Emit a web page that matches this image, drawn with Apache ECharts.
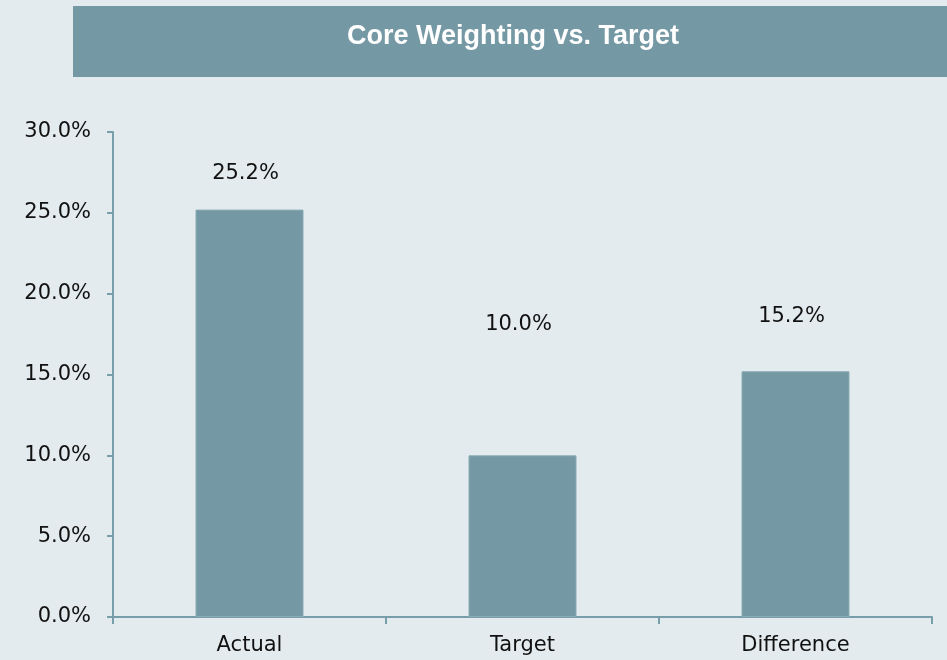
<!DOCTYPE html>
<html>
<head>
<meta charset="utf-8">
<script src="https://cdn.jsdelivr.net/npm/echarts@6/dist/echarts.min.js"></script>
<style>
    html, body { margin: 0; padding: 0; background: #e3ebee; }
    #chart { width: 947px; height: 660px; }
</style>
</head>
<body>
<div id="chart"></div>
<script>
const categories = ['Actual', 'Target', 'Difference']
const weights = [25.2, 10.0, 15.2]
const yTicks = [0, 5, 10, 15, 20, 25, 30]

// labels were hand-placed in the original, lift each one a bit differently
const labelLift = [26, 120, 44]

const barColor = '#7599a4'
const axisColor = '#789eab'
const font = '"DejaVu Sans", sans-serif'

const chart = echarts.init(document.getElementById('chart'), null, { renderer: 'canvas' })

chart.setOption({
    backgroundColor: '#e3ebee',
    animation: false,
    graphic: [
        {
            type: 'rect',
            left: 73, top: 6,
            shape: { width: 874, height: 71 },
            style: { fill: barColor },
        },
        {
            type: 'text',
            x: 513, y: 37,
            style: {
                text: 'Core Weighting vs. Target',
                fill: '#fff',
                font: 'bold 27px "Liberation Sans", sans-serif',
                textAlign: 'center',
                textVerticalAlign: 'middle',
            },
        },
    ],
    grid: { left: 113, right: 15, top: 132, bottom: 43 },
    xAxis: {
        type: 'category',
        data: categories,
        axisLine: { lineStyle: { color: axisColor, width: 2 } },
        axisTick: { show: true, interval: 0, length: 7, lineStyle: { color: axisColor, width: 2 } },
        axisLabel: { color: '#111', fontSize: 21, fontFamily: font, margin: 18 },
    },
    yAxis: {
        type: 'value',
        min: yTicks[0],
        max: yTicks[yTicks.length - 1],
        interval: yTicks[1] - yTicks[0],
        axisLine: { show: true, lineStyle: { color: axisColor, width: 2 } },
        axisTick: { show: true, length: 6, lineStyle: { color: axisColor, width: 2 } },
        splitLine: { show: false },
        axisLabel: {
            color: '#111', fontSize: 21, fontFamily: font, margin: 22,
            formatter: v => v.toFixed(1) + '%',
        },
    },
    series: [{
        type: 'bar',
        barWidth: 108,
        data: weights.map((v, i) => ({
            value: v,
            label: { distance: labelLift[i] },
        })),
        itemStyle: { color: barColor, borderColor: '#8aabb5', borderWidth: 1 },
        label: {
            show: true,
            position: 'top',
            offset: [-4, 0],
            color: '#111',
            fontSize: 21,
            fontFamily: font,
            formatter: p => p.value.toFixed(1) + '%',
        },
    }],
})
</script>
</body>
</html>
